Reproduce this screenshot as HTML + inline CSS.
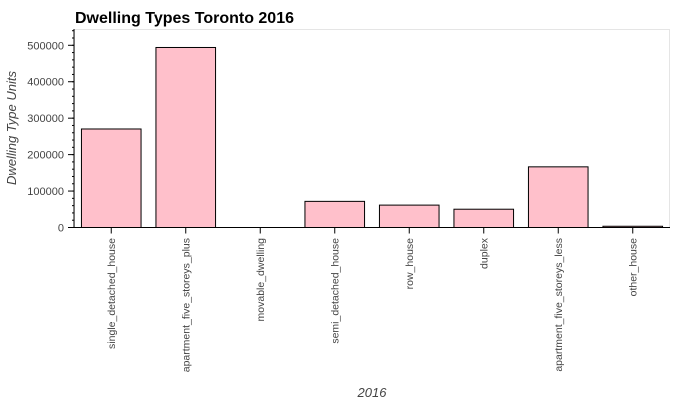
<!DOCTYPE html>
<html><head><meta charset="utf-8"><style>
html,body{margin:0;padding:0;background:#fff;width:700px;height:400px;overflow:hidden}
svg{display:block;font-family:"Liberation Sans",Arial,sans-serif}
</style></head><body>
<svg id="chart" width="700" height="400">
<text x="75" y="23" font-size="16" font-weight="bold" fill="#000">Dwelling Types Toronto 2016</text>
<rect x="74.5" y="29.5" width="595" height="198" fill="none" stroke="#e5e5e5"/>
<g id="bars"></g>
<g id="yaxis"></g>
<g id="xaxis"></g>
<text transform="translate(16,128) rotate(-90)" text-anchor="middle" font-size="13" font-style="italic" fill="#444">Dwelling Type Units</text>
<text x="372" y="397" text-anchor="middle" font-size="13" font-style="italic" fill="#444">2016</text>
</svg>
<script>
const categories = ["single_detached_house","apartment_five_storeys_plus","movable_dwelling","semi_detached_house","row_house","duplex","apartment_five_storeys_less","other_house"];
const values = [270330, 493980, 0, 71720, 61450, 50180, 166450, 3400];
const yTicks = [0, 100000, 200000, 300000, 400000, 500000];
const yTickLabels = ["0","100000","200000","300000","400000","500000"];

const NS = "http://www.w3.org/2000/svg";
const L = 74, R = 670, T = 29, B = 227.5, YMAX = 544700;
const band = (R - L) / categories.length;
function y(v){ return B - v / YMAX * (B - T); }
function xc(i){ return L + band * (i + 0.5); }
function mk(tag, attrs, parent){ const e = document.createElementNS(NS, tag); for (const k in attrs) e.setAttribute(k, attrs[k]); parent.appendChild(e); return e; }

const gb = document.getElementById('bars');
values.forEach((v, i) => {
  const w = band * 0.8, top = y(v);
  const h = Math.max(B - top, 0);
  const r = mk('rect', {x: xc(i) - w/2, y: top, width: w, height: h, fill: 'pink', stroke: h > 0 ? '#000' : 'none', 'stroke-width': 1}, gb);
  
  
});

const gy = document.getElementById('yaxis');
mk('line', {x1: L, y1: T, x2: L, y2: B, stroke: '#000'}, gy);
for (let v = 0; v <= YMAX; v += 20000) {
  mk('line', {x1: L - 2, y1: y(v), x2: L, y2: y(v), stroke: '#000'}, gy);
}
yTicks.forEach((v, i) => {
  mk('line', {x1: L - 6, y1: y(v), x2: L, y2: y(v), stroke: '#000'}, gy);
  const t = mk('text', {x: L - 10, y: y(v) + 4, 'text-anchor': 'end', 'font-size': 11, fill: '#444'}, gy);
  t.textContent = yTickLabels[i];
  
  
});

const gx = document.getElementById('xaxis');
mk('line', {x1: L, y1: B, x2: R, y2: B, stroke: '#000'}, gx);
categories.forEach((c, i) => {
  const x = xc(i);
  mk('line', {x1: x, y1: B, x2: x, y2: B + 6, stroke: '#000'}, gx);
  const t = mk('text', {transform: `translate(${x + 3.5},238) rotate(-90)`, 'text-anchor': 'end', 'font-size': 10.5, fill: '#444'}, gx);
  t.textContent = c;
  
  
});
</script>
</body></html>
